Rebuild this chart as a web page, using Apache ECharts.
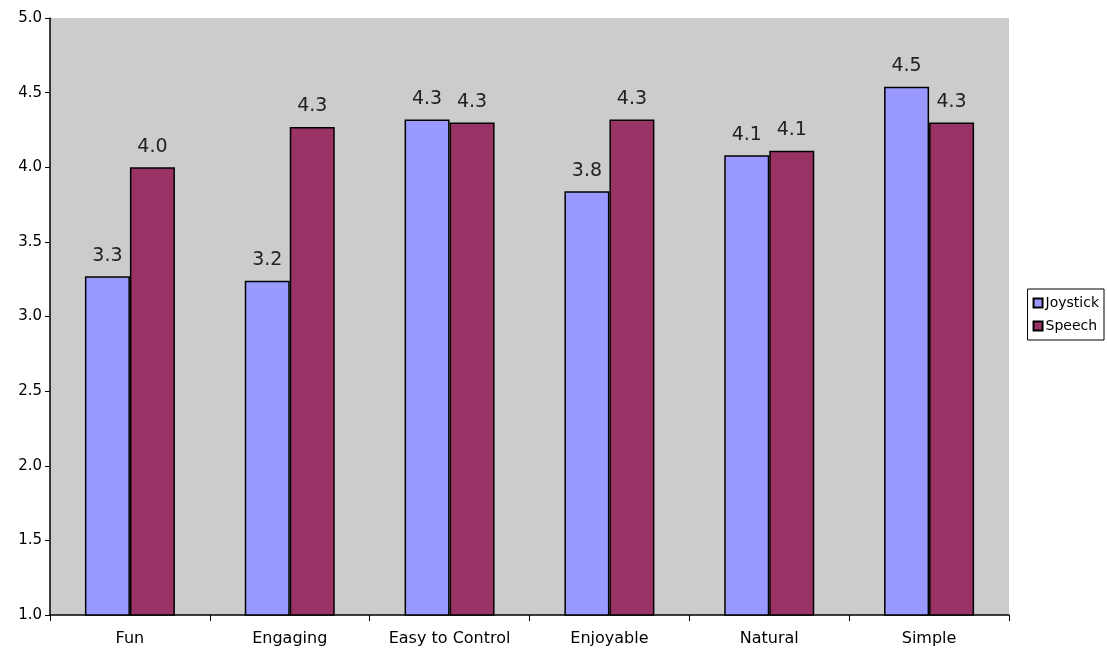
<!DOCTYPE html>
<html><head><meta charset="utf-8">
<script src="https://cdn.jsdelivr.net/npm/echarts@6/dist/echarts.min.js"></script>
<style>html,body{margin:0;padding:0;background:#fff}#c{width:1107px;height:655px}</style>
</head><body><div id="c"></div>
<script>
const categories = ["Fun", "Engaging", "Easy to Control", "Enjoyable", "Natural", "Simple"];
const joystick = [3.27, 3.24, 4.32, 3.84, 4.08, 4.54];
const speech = [4.00, 4.27, 4.30, 4.32, 4.11, 4.30];
const seriesNames = ["Joystick", "Speech"];

const chart = echarts.init(document.getElementById('c'));
const font = 'DejaVu Sans, Verdana, sans-serif';
const lbl = {show: true, position: 'top', distance: 11, color: '#222', fontSize: 19, fontFamily: font,
  formatter: p => p.value.toFixed(1)};
chart.setOption({
  animation: false,
  grid: {left: 50, right: 98, top: 18, bottom: 40, backgroundColor: '#cccccc', show: true, borderWidth: 0},
  legend: {
    orient: 'vertical', right: 3, top: 289, data: seriesNames,
    itemWidth: 9, itemHeight: 9, itemGap: 9, padding: [7, 5, 7, 5],
    borderColor: '#000', borderWidth: 1, backgroundColor: '#fff',
    textStyle: {fontSize: 14, fontFamily: font, color: '#000', padding: [0, 0, 0, -2]},
    icon: 'rect'
  },
  xAxis: {
    type: 'category', data: categories,
    axisLine: {lineStyle: {color: '#000', width: 1.5}},
    axisTick: {show: true, length: 6, lineStyle: {color: '#000'}},
    axisLabel: {fontSize: 16, fontFamily: font, color: '#000', margin: 16},
    splitLine: {show: false}
  },
  yAxis: {
    type: 'value', min: 1.0, max: 5.0, interval: 0.5,
    axisLine: {show: true, lineStyle: {color: '#000', width: 1.5}},
    axisTick: {show: true, length: 5, lineStyle: {color: '#000'}},
    axisLabel: {fontSize: 15, fontFamily: font, color: '#000', margin: 8, formatter: v => v.toFixed(1)},
    splitLine: {show: false}
  },
  series: [
    {name: seriesNames[0], type: 'bar', data: joystick, barWidth: 45, barGap: '0%',
      itemStyle: {color: '#9999ff', borderColor: '#000', borderWidth: 1.5}, label: lbl},
    {name: seriesNames[1], type: 'bar', data: speech, barWidth: 45, barGap: '0%',
      itemStyle: {color: '#993366', borderColor: '#000', borderWidth: 1.5}, label: lbl}
  ]
});
</script></body></html>
